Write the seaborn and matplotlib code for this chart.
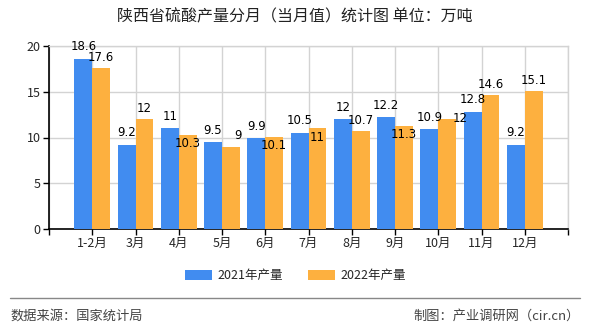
import matplotlib
matplotlib.use("Agg")
import matplotlib.pyplot as plt
import seaborn as sns
import pandas as pd
import numpy as np

months = ["1-2月", "3月", "4月", "5月", "6月", "7月", "8月", "9月", "10月", "11月", "12月"]
prod_2021 = [18.6, 9.2, 11, 9.5, 9.9, 10.5, 12, 12.2, 10.9, 12.8, 9.2]
prod_2022 = [17.6, 12, 10.3, 9, 10.1, 11, 10.7, 11.3, 12, 14.6, 15.1]
series_names = ["2021年产量", "2022年产量"]
yticks = [0, 5, 10, 15, 20]

title = "陕西省硫酸产量分月（当月值）统计图 单位：万吨"
source = "数据来源：国家统计局"
maker = "制图：产业调研网（cir.cn）"

colors = ["#418CF0", "#FDB03F"]

sns.set_theme(style="white")
plt.rcParams["font.family"] = ["Noto Sans CJK SC", "DejaVu Sans"]

df = pd.DataFrame({
    "month": months * 2,
    "value": prod_2021 + prod_2022,
    "series": [series_names[0]] * len(months) + [series_names[1]] * len(months),
})

fig = plt.figure(figsize=(5.9, 3.3), dpi=100)
ax = fig.add_axes([49 / 590, 1 - 229 / 330, 519 / 590, 183 / 330])

sns.barplot(data=df, x="month", y="value", hue="series", order=months,
            hue_order=series_names, palette=colors, width=0.83, ax=ax,
            saturation=1, legend=False, zorder=3, linewidth=0, edgecolor="none")

ax.set_xlim(-1, len(months))
ax.set_ylim(0, 20)
ax.set_yticks(yticks)
ax.set_xticks(range(-1, len(months) + 1))
ax.set_xticklabels([""] + months + [""], fontsize=9)
ax.set_yticklabels([str(t) for t in yticks], fontsize=9)
ax.set_xlabel("")
ax.set_ylabel("")
ax.tick_params(axis="both", which="both", length=4, width=1, color="black",
               pad=2, direction="out", bottom=True, left=True)
ax.grid(True, color="#D3D3D3", linewidth=1, zorder=0)
ax.set_axisbelow(True)
for s in ["top", "right"]:
    ax.spines[s].set_color("#D3D3D3")
    ax.spines[s].set_linewidth(1)
for s in ["left", "bottom"]:
    ax.spines[s].set_color("black")
    ax.spines[s].set_linewidth(1.2)

# data labels
bars = ax.patches
n = len(months)
# label offsets (points) for the 2022 labels to mimic reference placement
dy2 = [3, 3, -11, 3, -11, -11, 3, -11, -4, 3, 3]
dx2 = [0, 0, 0, 5, 0, 0, 0, 0, 9, 0, 0]
for i, b in enumerate(bars[:n]):
    ax.annotate(f"{prod_2021[i]:g}", (b.get_x() + b.get_width() / 2, b.get_height()),
                xytext=(0, 4), textcoords="offset points", ha="center", va="bottom",
                fontsize=8.5, family="DejaVu Sans", color="black", zorder=5)
for i, b in enumerate(bars[n:2 * n]):
    ax.annotate(f"{prod_2022[i]:g}", (b.get_x() + b.get_width() / 2, b.get_height()),
                xytext=(dx2[i], dy2[i]), textcoords="offset points", ha="center",
                va="bottom", fontsize=8.5, family="DejaVu Sans", color="black", zorder=5)

fig.text(0.5, 1 - 17 / 330, title, ha="center", va="center", fontsize=11.5, color="#222222")

# legend
from matplotlib.patches import Patch
handles = [Patch(facecolor=c, edgecolor="none") for c in colors]
fig.legend(handles, series_names, loc="center", bbox_to_anchor=(0.5, 1 - 276 / 330),
           ncol=2, frameon=False, fontsize=9, handlelength=2.2, handleheight=0.9,
           columnspacing=2.0, handletextpad=0.4)

# footer
fig.add_artist(plt.Line2D([10 / 590, 580 / 590], [1 - 298 / 330, 1 - 298 / 330],
                          color="#888888", linewidth=1))
fig.text(10 / 590, 1 - 316 / 330, source, ha="left", va="center", fontsize=9.5, color="#444444")
fig.text(580 / 590, 1 - 316 / 330, maker, ha="right", va="center", fontsize=9.5, color="#444444")

fig.savefig("out.png", dpi=100)
